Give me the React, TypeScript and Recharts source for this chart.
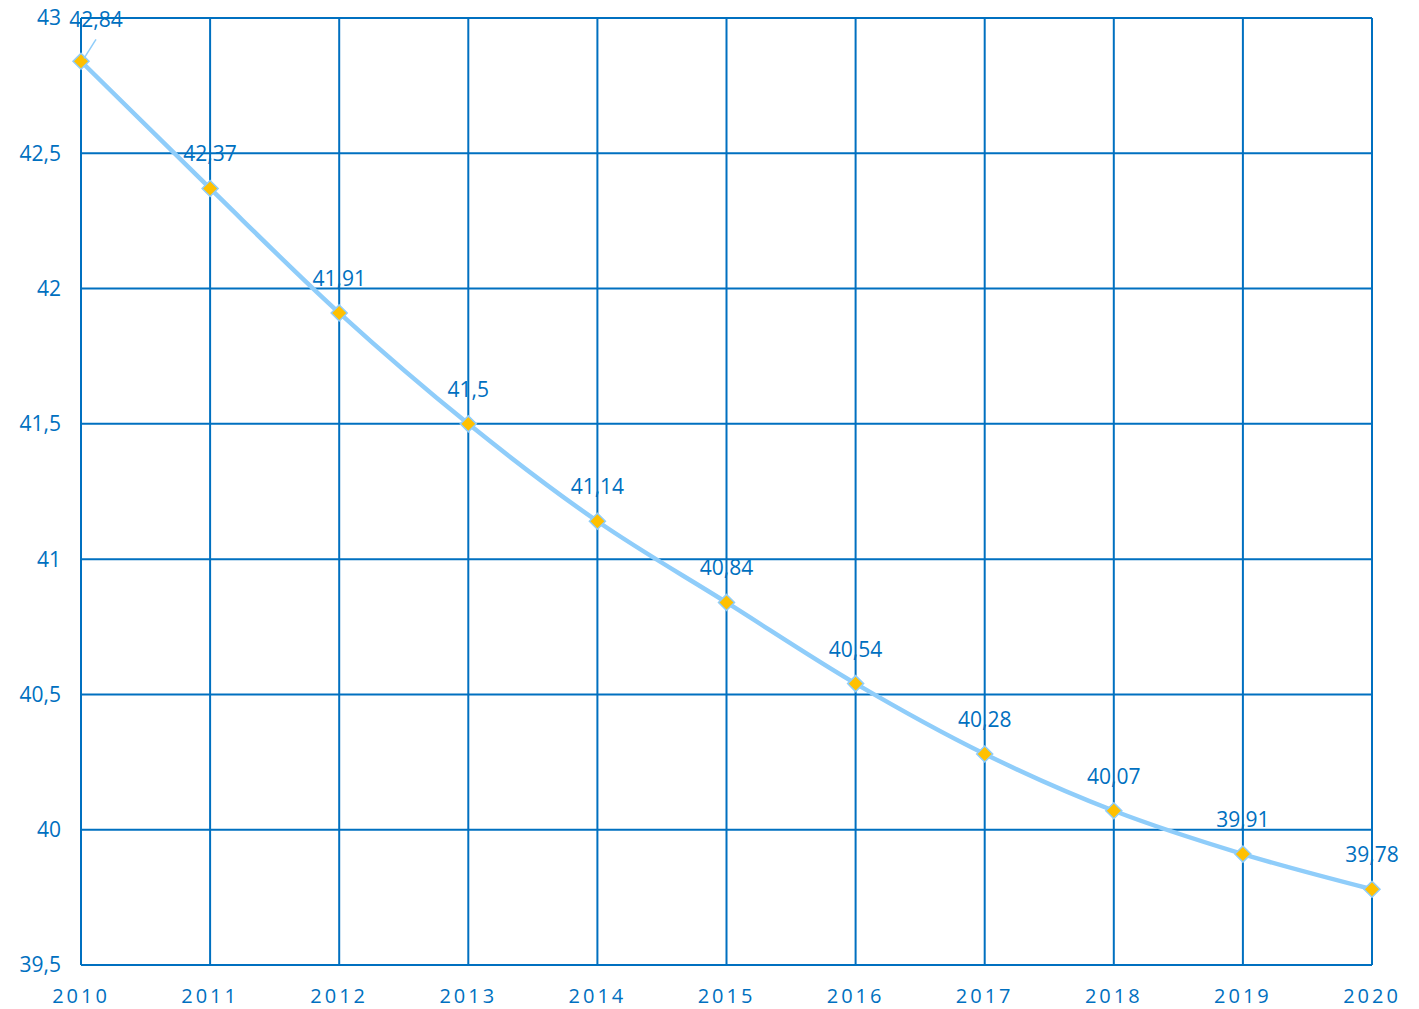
import React from 'react';
import { LineChart, Line, XAxis, YAxis, CartesianGrid, LabelList } from 'recharts';

// Years and values
const years: string[] = ['2010', '2011', '2012', '2013', '2014', '2015', '2016', '2017', '2018', '2019', '2020'];
const values: number[] = [42.84, 42.37, 41.91, 41.5, 41.14, 40.84, 40.54, 40.28, 40.07, 39.91, 39.78];
const yTicks: number[] = [39.5, 40, 40.5, 41, 41.5, 42, 42.5, 43];

const data = years.map((year, i) => ({ year, value: values[i] }));

const BLUE = '#0070C0';
const LINE = '#8FCDFA';
const GOLD = '#FFC000';
const FONT = '"Open Sans", "Liberation Sans", sans-serif';

const fmt = (v: number): string => String(v).replace('.', ',');

const Diamond = (props: any) => {
  const { cx, cy, index } = props;
  if (cx == null || cy == null) return null;
  const r = 8;
  return (
    <polygon
      key={`dot-${index}`}
      points={`${cx},${cy - r} ${cx + r},${cy} ${cx},${cy + r} ${cx - r},${cy}`}
      fill={GOLD}
      stroke={LINE}
      strokeWidth={1.5}
    />
  );
};

const renderLabel = (props: any) => {
  const { x, y, value, index } = props;
  const text = fmt(value);
  if (index === 0) {
    // first label sits up and to the right with a leader line
    return (
      <g>
        <line x1={x + 3} y1={y - 3} x2={x + 15} y2={y - 22} stroke={LINE} strokeWidth={1.5} />
        <text x={x + 15} y={y - 42} textAnchor="middle" dominantBaseline="central" fill={BLUE} fontSize={21} fontFamily={FONT}>
          {text}
        </text>
      </g>
    );
  }
  return (
    <text x={x} y={y - 35} textAnchor="middle" dominantBaseline="central" fill={BLUE} fontSize={21} fontFamily={FONT}>
      {text}
    </text>
  );
};

export default function App() {
  return (
    <div style={{ position: 'absolute', left: 0, top: 0, width: 1419, height: 1009, background: '#fff' }}>
      <LineChart width={1419} height={1009} data={data} margin={{ top: 18, right: 47, left: 21, bottom: 4 }}>
        <CartesianGrid stroke={BLUE} strokeWidth={2} vertical={true} horizontal={true} />
        <XAxis
          dataKey="year"
          padding={{ left: 0, right: 0 }}
          axisLine={{ stroke: BLUE, strokeWidth: 2 }}
          tickLine={false}
          tickMargin={18}
          height={40}
          interval={0}
          tick={{ fill: BLUE, fontSize: 20, fontFamily: FONT, letterSpacing: 3 }}
        />
        <YAxis
          type="number"
          domain={[39.5, 43]}
          ticks={yTicks}
          tickFormatter={fmt}
          axisLine={{ stroke: BLUE, strokeWidth: 2 }}
          tickLine={false}
          tickMargin={14}
          width={60}
          tick={{ fill: BLUE, fontSize: 21, fontFamily: FONT }}
        />
        <Line
          type="monotone"
          dataKey="value"
          stroke={LINE}
          strokeWidth={4.5}
          dot={<Diamond />}
          activeDot={false}
          isAnimationActive={false}
        >
          <LabelList dataKey="value" content={renderLabel} />
        </Line>
      </LineChart>
    </div>
  );
}
